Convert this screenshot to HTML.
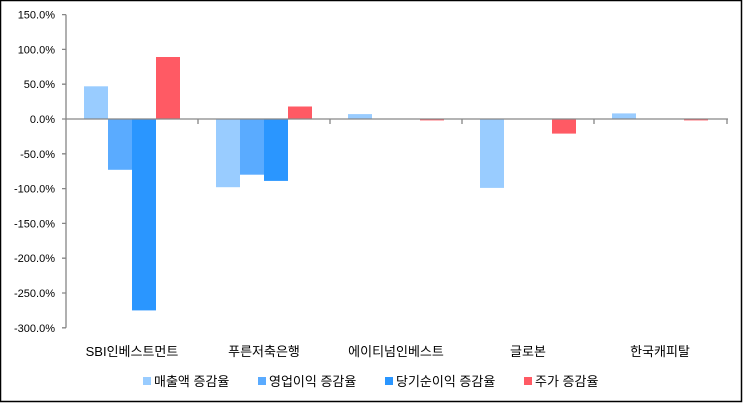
<!DOCTYPE html>
<html><head><meta charset="utf-8"><style>
html,body{margin:0;padding:0;background:#fff}
svg{display:block}
text{font-family:"Liberation Sans","Noto Sans CJK KR",sans-serif;fill:#000}
</style></head><body>
<svg width="743" height="403" xmlns="http://www.w3.org/2000/svg">
<rect x="0.5" y="0.5" width="741" height="401" fill="#fff" stroke="#000" stroke-width="1.5"/>
<g fill="#99CCFF">
<rect x="84" y="86.3" width="24" height="32.7"/>
<rect x="216" y="119" width="24" height="68.2"/>
<rect x="348" y="114.1" width="24" height="4.9"/>
<rect x="480" y="119" width="24" height="68.9"/>
<rect x="612" y="113.4" width="24" height="5.6"/>
</g>
<g fill="#5AABFF">
<rect x="108" y="119" width="24" height="50.8"/>
<rect x="240" y="119" width="24" height="55.7"/>
</g>
<g fill="#2A96FF">
<rect x="132" y="119" width="24" height="191.4"/>
<rect x="264" y="119" width="24" height="61.9"/>
</g>
<g fill="#FF5A64">
<rect x="156" y="57" width="24" height="62"/>
<rect x="288" y="106.5" width="24" height="12.5"/>
<rect x="420" y="119" width="24" height="1.4"/>
<rect x="552" y="119" width="24" height="14.6"/>
<rect x="684" y="119" width="24" height="1.4"/>
</g>
<g stroke="#868686" stroke-width="1.3" fill="none">
<line x1="66" y1="14.6" x2="66" y2="327.8"/>
<line x1="66" y1="119" x2="728" y2="119"/>
<path d="M62 14.6H66M62 49.4H66M62 84.2H66M62 119H66M62 153.8H66M62 188.6H66M62 223.4H66M62 258.2H66M62 293H66M62 327.8H66"/>
<path d="M198 119V124M330 119V124M462 119V124M594 119V124M727 119V124"/>
</g>
<g font-size="11" text-anchor="end">
<text x="55" y="18.6">150.0%</text>
<text x="55" y="53.4">100.0%</text>
<text x="55" y="88.2">50.0%</text>
<text x="55" y="123">0.0%</text>
<text x="55" y="157.8">-50.0%</text>
<text x="55" y="192.6">-100.0%</text>
<text x="55" y="227.4">-150.0%</text>
<text x="55" y="262.2">-200.0%</text>
<text x="55" y="297">-250.0%</text>
<text x="55" y="331.8">-300.0%</text>
</g>
<g font-size="13" text-anchor="middle">
<text x="132" y="356">SBI인베스트먼트</text>
<text x="264" y="356">푸른저축은행</text>
<text x="396" y="356">에이티넘인베스트</text>
<text x="528" y="356">글로본</text>
<text x="660" y="356">한국캐피탈</text>
</g>
<g font-size="13">
<rect x="143" y="377" width="8" height="8" fill="#99CCFF"/><text x="154" y="386">매출액 증감율</text>
<rect x="258" y="377" width="8" height="8" fill="#5AABFF"/><text x="269" y="386">영업이익 증감율</text>
<rect x="385" y="377" width="8" height="8" fill="#2A96FF"/><text x="396" y="386">당기순이익 증감율</text>
<rect x="524" y="377" width="8" height="8" fill="#FF5A64"/><text x="535" y="386">주가 증감율</text>
</g>
</svg>
</body></html>
